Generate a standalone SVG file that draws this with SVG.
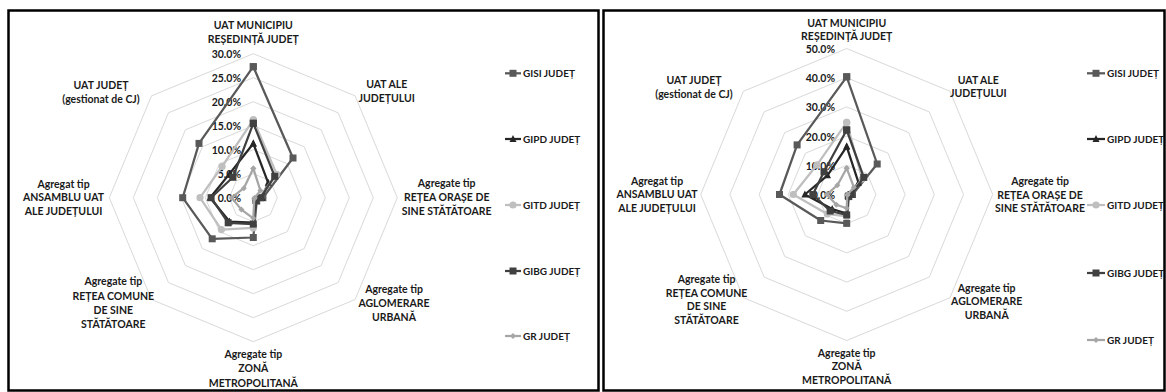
<svg xmlns="http://www.w3.org/2000/svg" width="1166" height="392" viewBox="0 0 1166 392">
<style>
.frame{fill:none;stroke:#000;stroke-width:2.5}
.grid{fill:none;stroke:#d9d9d9;stroke-width:1}
.lbl{font-family:Lato,"Open Sans","Liberation Sans",sans-serif;font-weight:bold;font-size:10.5px;fill:#1a1a1a;text-anchor:middle}
.tick{font-family:Lato,"Open Sans","Liberation Sans",sans-serif;font-weight:bold;font-size:10.5px;fill:#1a1a1a;text-anchor:end}
.leg{font-family:Lato,"Open Sans","Liberation Sans",sans-serif;font-weight:bold;font-size:10px;fill:#1a1a1a}
.s{fill:none;stroke-width:2.25;stroke-linejoin:round}
.gisi{stroke:#595959;marker-start:url(#mGISI);marker-mid:url(#mGISI);marker-end:url(#mGISI)}
.gipd{stroke:#262626;marker-start:url(#mGIPD);marker-mid:url(#mGIPD);marker-end:url(#mGIPD)}
.gitd{stroke:#bfbfbf;marker-start:url(#mGITD);marker-mid:url(#mGITD);marker-end:url(#mGITD)}
.gibg{stroke:#404040;marker-start:url(#mGIBG);marker-mid:url(#mGIBG);marker-end:url(#mGIBG)}
.gr{stroke:#a6a6a6;marker-start:url(#mGR);marker-mid:url(#mGR);marker-end:url(#mGR)}
.legline{marker-start:none;marker-end:none}
</style>
<defs>
<marker id="mGISI" markerWidth="8" markerHeight="8" refX="4" refY="4" markerUnits="userSpaceOnUse"><rect x="0.5" y="0.5" width="7" height="7" fill="#595959"/></marker>
<marker id="mGIPD" markerWidth="8" markerHeight="8" refX="4" refY="4.5" markerUnits="userSpaceOnUse"><path d="M4,0.5 L7.5,7.5 L0.5,7.5 Z" fill="#262626"/></marker>
<marker id="mGITD" markerWidth="8" markerHeight="8" refX="4" refY="4" markerUnits="userSpaceOnUse"><circle cx="4" cy="4" r="3.6" fill="#bfbfbf"/></marker>
<marker id="mGIBG" markerWidth="8" markerHeight="8" refX="4" refY="4" markerUnits="userSpaceOnUse"><rect x="0.5" y="0.5" width="7" height="7" fill="#404040"/></marker>
<marker id="mGR" markerWidth="7" markerHeight="7" refX="3.5" refY="3.5" markerUnits="userSpaceOnUse"><path d="M3.5,0.5 L6.5,3.5 L3.5,6.5 L0.5,3.5 Z" fill="#a6a6a6"/></marker>
</defs>
<rect width="1166" height="392" fill="#fff"/>
<rect class="frame" x="8.5" y="10.5" width="590" height="380"/>
<rect class="frame" x="603.5" y="10.5" width="561" height="380"/>

<!-- LEFT CHART -->
<g id="chart-left">
<g id="grid-left" transform="translate(253.3,197.7)">
<polygon class="grid" points="0,-24 16.97,-16.97 24,0 16.97,16.97 0,24 -16.97,16.97 -24,0 -16.97,-16.97"/>
<polygon class="grid" points="0,-48 33.94,-33.94 48,0 33.94,33.94 0,48 -33.94,33.94 -48,0 -33.94,-33.94"/>
<polygon class="grid" points="0,-72 50.91,-50.91 72,0 50.91,50.91 0,72 -50.91,50.91 -72,0 -50.91,-50.91"/>
<polygon class="grid" points="0,-96 67.88,-67.88 96,0 67.88,67.88 0,96 -67.88,67.88 -96,0 -67.88,-67.88"/>
<polygon class="grid" points="0,-120 84.85,-84.85 120,0 84.85,84.85 0,120 -84.85,84.85 -120,0 -84.85,-84.85"/>
<polygon class="grid" points="0,-144 101.82,-101.82 144,0 101.82,101.82 0,144 -101.82,101.82 -144,0 -101.82,-101.82"/>
</g>
<g id="ticks-left">
<text class="tick" x="241" y="58">30.0%</text>
<text class="tick" x="241" y="82">25.0%</text>
<text class="tick" x="241" y="106">20.0%</text>
<text class="tick" x="241" y="130">15.0%</text>
<text class="tick" x="241" y="154">10.0%</text>
<text class="tick" x="241" y="178">5.0%</text>
<text class="tick" x="241" y="202">0.0%</text>
</g>
<g id="series-left" transform="translate(253.3,197.7)">
<polygon class="s gisi" points="0,-131 39.7,-39.7 9.6,0 3.4,3.4 0,39.8 -41.1,41.1 -70.6,0 -54.3,-54.3"/>
<polygon class="s gipd" points="0,-54.2 14.9,-14.9 8.6,0 2.7,2.7 0,25 -23.8,23.8 -43.2,0 -23.8,-23.8"/>
<polygon class="s gitd" points="0,-77.8 23.4,-23.4 5.8,0 2,2 0,30.2 -31.9,31.9 -53.3,0 -31.2,-31.2"/>
<polygon class="s gibg" points="0,-74.4 21.4,-21.4 7.2,0 2.7,2.7 0,26.4 -25.1,25.1 -42.2,0 -20.4,-20.4"/>
<polygon class="s gr" points="0,-29.3 7.1,-7.1 1.4,0 1,1 0,20.6 -11.9,11.9 -21.6,0 -9.5,-9.5"/>
</g>
<g id="axis-labels-left">
<text class="lbl" x="253.3" y="28.5">UAT MUNICIPIU</text>
<text class="lbl" x="253.3" y="43">REȘEDINȚĂ JUDEȚ</text>
<text class="lbl" x="386.7" y="87.5">UAT ALE</text>
<text class="lbl" x="386.7" y="102">JUDEȚULUI</text>
<text class="lbl" x="446.7" y="187">Agregate tip</text>
<text class="lbl" x="446.7" y="200.5">REȚEA ORAȘE DE</text>
<text class="lbl" x="446.7" y="214.5">SINE STĂTĂTOARE</text>
<text class="lbl" x="394" y="293">Agregate tip</text>
<text class="lbl" x="394" y="307">AGLOMERARE</text>
<text class="lbl" x="394" y="321">URBANĂ</text>
<text class="lbl" x="253.3" y="358">Agregate tip</text>
<text class="lbl" x="253.3" y="372">ZONĂ</text>
<text class="lbl" x="253.3" y="386.5">METROPOLITANĂ</text>
<text class="lbl" x="113.3" y="285">Agregate tip</text>
<text class="lbl" x="113.3" y="299.5">REȚEA COMUNE</text>
<text class="lbl" x="113.3" y="313.5">DE SINE</text>
<text class="lbl" x="113.3" y="328">STĂTĂTOARE</text>
<text class="lbl" x="63.5" y="187.5">Agregat tip</text>
<text class="lbl" x="63.5" y="201">ANSAMBLU UAT</text>
<text class="lbl" x="63.5" y="214.5">ALE JUDEȚULUI</text>
<text class="lbl" x="101" y="88.5">UAT JUDEȚ</text>
<text class="lbl" x="101" y="103">(gestionat de CJ)</text>
</g>
<g id="legend-left">
<g id="leg-l-gisi"><polyline class="s gisi legline" points="505,73.3 513,73.3 521,73.3"/><text class="leg" x="523" y="77">GISI JUDEȚ</text></g>
<g id="leg-l-gipd"><polyline class="s gipd legline" points="505,139 513,139 521,139"/><text class="leg" x="523" y="142.7">GIPD JUDEȚ</text></g>
<g id="leg-l-gitd"><polyline class="s gitd legline" points="505,205 513,205 521,205"/><text class="leg" x="523" y="208.7">GITD JUDEȚ</text></g>
<g id="leg-l-gibg"><polyline class="s gibg legline" points="505,271 513,271 521,271"/><text class="leg" x="523" y="274.7">GIBG JUDEȚ</text></g>
<g id="leg-l-gr"><polyline class="s gr legline" points="505,336 513,336 521,336"/><text class="leg" x="523" y="339.7">GR JUDEȚ</text></g>
</g>
</g>

<!-- RIGHT CHART -->
<g id="chart-right">
<g id="grid-right" transform="translate(846.7,194.5)">
<polygon class="grid" points="0,-29.2 20.65,-20.65 29.2,0 20.65,20.65 0,29.2 -20.65,20.65 -29.2,0 -20.65,-20.65"/>
<polygon class="grid" points="0,-58.4 41.3,-41.3 58.4,0 41.3,41.3 0,58.4 -41.3,41.3 -58.4,0 -41.3,-41.3"/>
<polygon class="grid" points="0,-87.6 61.94,-61.94 87.6,0 61.94,61.94 0,87.6 -61.94,61.94 -87.6,0 -61.94,-61.94"/>
<polygon class="grid" points="0,-116.8 82.59,-82.59 116.8,0 82.59,82.59 0,116.8 -82.59,82.59 -116.8,0 -82.59,-82.59"/>
<polygon class="grid" points="0,-146 103.24,-103.24 146,0 103.24,103.24 0,146 -103.24,103.24 -146,0 -103.24,-103.24"/>
</g>
<g id="ticks-right">
<text class="tick" x="835" y="53">50.0%</text>
<text class="tick" x="835" y="82.2">40.0%</text>
<text class="tick" x="835" y="111.4">30.0%</text>
<text class="tick" x="835" y="140.6">20.0%</text>
<text class="tick" x="835" y="169.8">10.0%</text>
<text class="tick" x="835" y="199">0.0%</text>
</g>
<g id="series-right" transform="translate(846.7,194.5)">
<polygon class="s gisi" points="0,-117.7 30.5,-30.5 5.8,0 2.1,2.1 0,28.9 -26,26 -67.2,0 -49.6,-49.6"/>
<polygon class="s gipd" points="0,-47.9 11.8,-11.8 3.8,0 1.3,1.3 0,19 -14.5,14.5 -41.8,0 -19.2,-19.2"/>
<polygon class="s gitd" points="0,-72.1 15.5,-15.5 2.9,0 1,1 0,21.9 -19.4,19.4 -53.4,0 -29.7,-29.7"/>
<polygon class="s gibg" points="0,-64.5 17.1,-17.1 4.4,0 1.7,1.7 0,20.4 -16.5,16.5 -33.9,0 -22.7,-22.7"/>
<polygon class="s gr" points="0,-26.3 7.2,-7.2 0.9,0 0.6,0.6 0,13.7 -10.3,10.3 -19.9,0 -9.3,-9.3"/>
</g>
<g id="axis-labels-right">
<text class="lbl" x="846.7" y="26.5">UAT MUNICIPIU</text>
<text class="lbl" x="846.7" y="39.5">REȘEDINȚĂ JUDEȚ</text>
<text class="lbl" x="978.3" y="83.5">UAT ALE</text>
<text class="lbl" x="978.3" y="97">JUDEȚULUI</text>
<text class="lbl" x="1040" y="185">Agregate tip</text>
<text class="lbl" x="1040" y="198.5">REȚEA ORAȘE DE</text>
<text class="lbl" x="1040" y="211.5">SINE STĂTĂTOARE</text>
<text class="lbl" x="986.7" y="291.8">Agregate tip</text>
<text class="lbl" x="986.7" y="305.2">AGLOMERARE</text>
<text class="lbl" x="986.7" y="318.5">URBANĂ</text>
<text class="lbl" x="846.7" y="356.8">Agregate tip</text>
<text class="lbl" x="846.7" y="370.2">ZONĂ</text>
<text class="lbl" x="846.7" y="383.5">METROPOLITANĂ</text>
<text class="lbl" x="706.5" y="283">Agregate tip</text>
<text class="lbl" x="706.5" y="296.5">REȚEA COMUNE</text>
<text class="lbl" x="706.5" y="310">DE SINE</text>
<text class="lbl" x="706.5" y="324">STĂTĂTOARE</text>
<text class="lbl" x="657" y="184.5">Agregat tip</text>
<text class="lbl" x="657" y="198">ANSAMBLU UAT</text>
<text class="lbl" x="657" y="211.5">ALE JUDEȚULUI</text>
<text class="lbl" x="694" y="84">UAT JUDEȚ</text>
<text class="lbl" x="694" y="98">(gestionat de CJ)</text>
</g>
<g id="legend-right">
<g id="leg-r-gisi"><polyline class="s gisi legline" points="1087,73.3 1096,73.3 1105,73.3"/><text class="leg" x="1107" y="77">GISI JUDEȚ</text></g>
<g id="leg-r-gipd"><polyline class="s gipd legline" points="1087,139 1096,139 1105,139"/><text class="leg" x="1107" y="142.7">GIPD JUDEȚ</text></g>
<g id="leg-r-gitd"><polyline class="s gitd legline" points="1087,205 1096,205 1105,205"/><text class="leg" x="1107" y="208.7">GITD JUDEȚ</text></g>
<g id="leg-r-gibg"><polyline class="s gibg legline" points="1087,273 1096,273 1105,273"/><text class="leg" x="1107" y="276.7">GIBG JUDEȚ</text></g>
<g id="leg-r-gr"><polyline class="s gr legline" points="1087,340 1096,340 1105,340"/><text class="leg" x="1107" y="343.7">GR JUDEȚ</text></g>
</g>
</g>
</svg>
